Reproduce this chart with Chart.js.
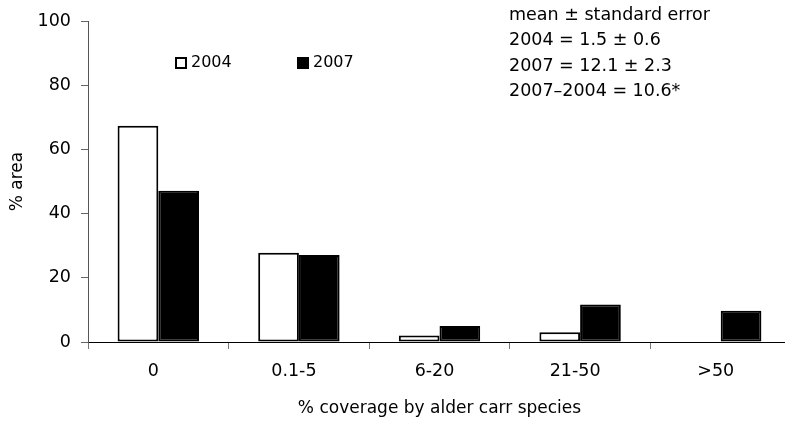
<!DOCTYPE html>
<html>
<head>
<meta charset="utf-8">
<script src="https://cdn.jsdelivr.net/npm/chart.js@4/dist/chart.umd.min.js"></script>
<style>
  html, body { margin: 0; padding: 0; overflow: hidden; background: #ffffff; }
  canvas { display: block; }
</style>
</head>
<body>
<canvas id="chart" width="791" height="421"></canvas>
<script>
// Share of area in each alder carr coverage class, per survey year
const categories = ['0', '0.1-5', '6-20', '21-50', '>50'];
const area2004 = [67.4, 27.8, 2.0, 3.0, 0];
const area2007 = [47.1, 27.1, 5.0, 11.7, 9.7];
const yTicks = [0, 20, 40, 60, 80, 100];
const seriesNames = ['2004', '2007'];
const statLines = [
  'mean \u00b1 standard error',
  '2004 = 1.5 \u00b1 0.6',
  '2007 = 12.1 \u00b1 2.3',
  '2007\u20132004 = 10.6*'
];

const FONT = '"DejaVu Sans", Arial, Helvetica, sans-serif';
const tickFont = { family: FONT, size: 17.5 };
const titleFont = { family: FONT, size: 17 };

// Legend boxes and the summary statistics block drawn inside the plot
const overlayPlugin = {
  id: 'overlay',
  afterDraw(chart) {
    const ctx = chart.ctx;
    ctx.save();
    ctx.textBaseline = 'middle';
    ctx.textAlign = 'left';

    ctx.font = '16px ' + FONT;
    const legendX = [175, 297];
    chart.data.datasets.forEach((ds, i) => {
      const x = legendX[i], y = 57;
      ctx.fillStyle = ds.backgroundColor;
      ctx.fillRect(x, y, 12, 12);
      ctx.strokeStyle = '#000';
      ctx.lineWidth = 2;
      ctx.strokeRect(x + 1, y + 1, 10, 10);
      ctx.fillStyle = '#000';
      ctx.fillText(ds.label, x + 16, y + 6);
    });

    ctx.font = '17.5px ' + FONT;
    ctx.fillStyle = '#000';
    const lineY = [15, 40, 66, 91];
    statLines.forEach((t, i) => ctx.fillText(t, 509, lineY[i]));
    ctx.restore();
  }
};

new Chart(document.getElementById('chart'), {
  type: 'bar',
  data: {
    labels: categories,
    datasets: [
      {
        label: seriesNames[0],
        data: area2004,
        backgroundColor: '#ffffff',
        borderColor: '#000000',
        borderWidth: 2,
        borderSkipped: false
      },
      {
        label: seriesNames[1],
        data: area2007,
        backgroundColor: '#000000',
        borderColor: '#000000',
        borderWidth: 2,
        borderSkipped: false
      }
    ]
  },
  options: {
    responsive: false,
    animation: false,
    devicePixelRatio: 1,
    layout: { padding: { top: 21, right: 0, bottom: 0, left: 0 } },
    datasets: { bar: { categoryPercentage: 0.579, barPercentage: 1.0 } },
    plugins: {
      legend: { display: false },
      tooltip: { enabled: false }
    },
    scales: {
      x: {
        grid: {
          offset: true,
          drawOnChartArea: false,
          drawTicks: true,
          tickLength: 7,
          color: '#777'
        },
        border: { display: true, color: '#000', width: 1 },
        ticks: { color: '#000', font: tickFont, padding: 12, maxRotation: 0, labelOffset: -5 },
        title: {
          display: true,
          text: '% coverage by alder carr species',
          color: '#000',
          font: titleFont,
          padding: { top: 0, bottom: 2 }
        },
        afterFit(scale) { scale.height = 79; }
      },
      y: {
        min: 0,
        max: 100,
        afterBuildTicks(scale) { scale.ticks = yTicks.map(v => ({ value: v })); },
        grid: {
          drawOnChartArea: false,
          drawTicks: true,
          tickLength: 7,
          color: '#666'
        },
        border: { display: true, color: '#555', width: 1 },
        ticks: { color: '#000', font: tickFont, padding: 10 },
        title: {
          display: true,
          text: '% area',
          color: '#000',
          font: titleFont,
          padding: { top: 7, bottom: 0 }
        },
        afterFit(scale) { scale.width = 88; }
      }
    }
  },
  plugins: [overlayPlugin]
});
</script>
</body>
</html>
